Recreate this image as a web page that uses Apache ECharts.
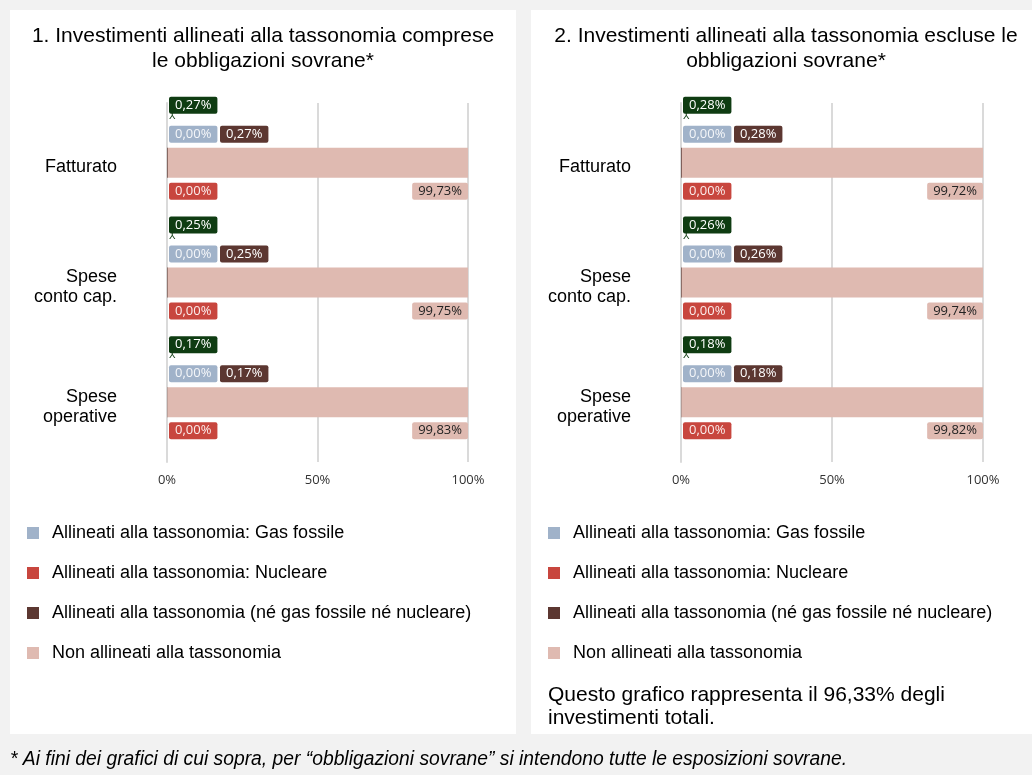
<!DOCTYPE html>
<html>
<head>
<meta charset="utf-8">
<script src="https://cdn.jsdelivr.net/npm/echarts@6/dist/echarts.min.js"></script>
<style>
  html, body { margin: 0; padding: 0; background: #f2f2f2; }
  #main { width: 1032px; height: 775px; }
</style>
</head>
<body>
<div id="main"></div>
<script>
// categorie (asse verticale)
var categories = ['Fatturato', 'Spese\nconto cap.', 'Spese\noperative'];
var seriesNames = [
    'Allineati alla tassonomia: Gas fossile',
    'Allineati alla tassonomia: Nucleare',
    'Allineati alla tassonomia (né gas fossile né nucleare)',
    'Non allineati alla tassonomia'
];
var xTicks = [0, 50, 100];

// grafico 1: comprese le obbligazioni sovrane
var gas1 = [0, 0, 0];
var nucleare1 = [0, 0, 0];
var allineati1 = [0.27, 0.25, 0.17];
var nonAllineati1 = [99.73, 99.75, 99.83];
var totale1 = [0.27, 0.25, 0.17];

// grafico 2: escluse le obbligazioni sovrane
var gas2 = [0, 0, 0];
var nucleare2 = [0, 0, 0];
var allineati2 = [0.28, 0.26, 0.18];
var nonAllineati2 = [99.72, 99.74, 99.82];
var totale2 = [0.28, 0.26, 0.18];

var colors = ['#a0b2c9', '#c8463e', '#5c3731', '#dfbab1'];
var totColor = '#0f3c12';
var gridColor = '#dadada';
var mainFont = '"Liberation Sans", Arial, sans-serif';
var labelFont = '"Open Sans", sans-serif';

function pct(v) {
    return v.toFixed(2).replace('.', ',') + '%';
}

function boxLabel(bg, fg, pos, align) {
    return {
        show: true,
        position: pos,
        align: align || 'left',
        verticalAlign: 'top',
        formatter: function(p) { return pct(p.value); },
        fontFamily: labelFont,
        fontSize: 13,
        lineHeight: 13,
        color: fg,
        backgroundColor: bg,
        borderRadius: 2,
        padding: [2, 6, 2, 6]
    };
}

// etichetta verde del totale, con il piccolo segno di collegamento sotto
function totLabel() {
    return {
        show: true,
        position: [2, -49],
        align: 'left',
        verticalAlign: 'top',
        formatter: function(p) { return '{b|' + pct(p.value) + '}\n{m|⅄}'; },
        rich: {
            b: {
                fontFamily: labelFont, fontSize: 13, lineHeight: 13, color: '#fff',
                backgroundColor: totColor, borderRadius: 2, padding: [2, 6, 2, 6]
            },
            m: {
                fontFamily: '"DejaVu Sans", sans-serif', fontSize: 10, lineHeight: 9,
                color: totColor, padding: [0, 0, 0, 0]
            }
        }
    };
}

function makeSeries(idx, gas, nuc, all, non, tot) {
    return [{
        name: seriesNames[0], type: 'bar', stack: 'a' + idx, xAxisIndex: idx, yAxisIndex: idx * 2,
        barWidth: 30, data: gas, itemStyle: { color: colors[0] },
        label: boxLabel(colors[0], '#f4f6f9', [2, -22])
    }, {
        name: seriesNames[1], type: 'bar', stack: 'a' + idx, xAxisIndex: idx, yAxisIndex: idx * 2,
        barWidth: 30, data: nuc, itemStyle: { color: colors[1] },
        label: boxLabel(colors[1], '#fbeceb', [2, 35])
    }, {
        name: seriesNames[2], type: 'bar', stack: 'a' + idx, xAxisIndex: idx, yAxisIndex: idx * 2,
        barWidth: 30, data: all, itemStyle: { color: colors[2] },
        label: boxLabel(colors[2], '#ffffff', [53, -22])
    }, {
        name: seriesNames[3], type: 'bar', stack: 'a' + idx, xAxisIndex: idx, yAxisIndex: idx * 2,
        barWidth: 30, data: non, itemStyle: { color: colors[3] },
        label: boxLabel(colors[3], '#222222', ['100%', 35], 'right')
    }, {
        // totale allineati (etichetta verde)
        name: 'Totale', type: 'bar', stack: 't' + idx, xAxisIndex: idx, yAxisIndex: idx * 2,
        barWidth: 30, barGap: '-100%', data: tot, itemStyle: { color: 'rgba(0,0,0,0)' },
        label: totLabel()
    }];
}

function makeYAxes(idx) {
    return [{
        type: 'category', gridIndex: idx, data: categories, inverse: true,
        axisLine: { lineStyle: { color: gridColor, width: 2 } },
        axisTick: { length: 5, lineStyle: { color: gridColor, width: 1.5 } },
        axisLabel: {
            margin: 50,
            // riga vuota in alto per abbassare un po' il testo
            formatter: function(v) {
                return '{g| }\n{t|' + v.split('\n').join('}\n{t|') + '}';
            },
            rich: {
                g: { fontSize: 1, lineHeight: 9 },
                t: { fontFamily: mainFont, fontSize: 18, lineHeight: 20, color: '#000', align: 'right' }
            }
        }
    }, {
        type: 'category', gridIndex: idx, data: categories, inverse: true,
        axisLine: { show: false },
        axisTick: { alignWithLabel: true, length: 5, lineStyle: { color: gridColor, width: 1.5 } },
        axisLabel: { show: false }
    }];
}

function makeXAxis(idx) {
    return {
        type: 'value', gridIndex: idx, min: xTicks[0], max: xTicks[xTicks.length - 1],
        interval: xTicks[1] - xTicks[0],
        axisLine: { show: false }, axisTick: { show: false },
        splitLine: { lineStyle: { color: gridColor, width: 2 } },
        axisLabel: {
            formatter: '{value}%', margin: 12, fontFamily: labelFont,
            fontSize: 13, color: '#333'
        }
    };
}

function makeLegend(left) {
    return {
        orient: 'vertical', left: left, top: 523, padding: 0,
        data: seriesNames, icon: 'rect', itemWidth: 12, itemHeight: 12, itemGap: 20,
        selectedMode: false,
        textStyle: { fontFamily: mainFont, fontSize: 18, lineHeight: 20, color: '#000', padding: [0, 0, 0, 8] }
    };
}

var myChart = echarts.init(document.getElementById('main'));
var option = {
    backgroundColor: '#f2f2f2',
    animation: false,
    graphic: [
        { type: 'rect', shape: { x: 10, y: 10, width: 506, height: 724 }, style: { fill: '#fff' }, z: -10 },
        { type: 'rect', shape: { x: 531, y: 10, width: 501, height: 724 }, style: { fill: '#fff' }, z: -10 },
        {
            type: 'text', x: 263, y: 24,
            style: {
                text: '1. Investimenti allineati alla tassonomia comprese\nle obbligazioni sovrane*',
                font: '21px ' + mainFont, fill: '#000', textAlign: 'center', textVerticalAlign: 'top', lineHeight: 25
            }
        },
        {
            type: 'text', x: 786, y: 24,
            style: {
                text: '2. Investimenti allineati alla tassonomia escluse le\nobbligazioni sovrane*',
                font: '21px ' + mainFont, fill: '#000', textAlign: 'center', textVerticalAlign: 'top', lineHeight: 25
            }
        },
        {
            type: 'text', x: 548, y: 684,
            style: {
                text: 'Questo grafico rappresenta il 96,33% degli\ninvestimenti totali.',
                font: '21px ' + mainFont, fill: '#000', textVerticalAlign: 'top', lineHeight: 23
            }
        },
        {
            type: 'text', x: 10, y: 760,
            style: {
                text: '* Ai fini dei grafici di cui sopra, per “obbligazioni sovrane” si intendono tutte le esposizioni sovrane.',
                font: 'italic 19.3px ' + mainFont, fill: '#000', textVerticalAlign: 'middle'
            }
        }
    ],
    legend: [makeLegend(27), makeLegend(548)],
    grid: [
        { left: 167, top: 103, width: 301, height: 359 },
        { left: 681, top: 103, width: 302, height: 359 }
    ],
    xAxis: [makeXAxis(0), makeXAxis(1)],
    yAxis: makeYAxes(0).concat(makeYAxes(1)),
    series: makeSeries(0, gas1, nucleare1, allineati1, nonAllineati1, totale1)
        .concat(makeSeries(1, gas2, nucleare2, allineati2, nonAllineati2, totale2))
};
myChart.setOption(option);
</script>
</body>
</html>
